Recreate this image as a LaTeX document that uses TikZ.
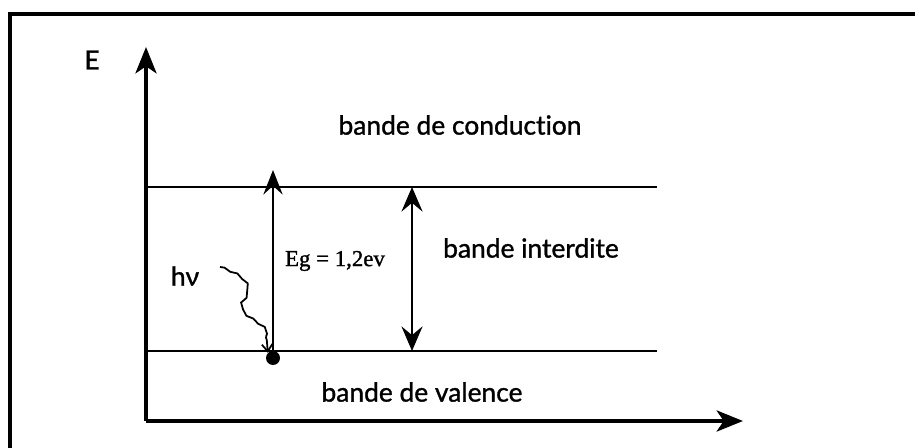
\documentclass[tikz,border=0pt]{standalone}
\usepackage{fontspec}
\setmainfont{Lato}[Ligatures=NoCommon, FakeBold=1.2]
\newfontfamily\egfont{Liberation Serif}[FakeBold=1.2]
\usetikzlibrary{arrows.meta,positioning,decorations.pathmorphing}

\begin{document}
\begin{tikzpicture}[
  x=0.02cm, y=-0.02cm,
  axis/.style={line width=2.1pt, -{Stealth[length=15pt, width=12pt, inset=4pt]}},
  level/.style={line width=1.4pt},
  gaparrow/.style={line width=1.3pt, {Stealth[length=14pt, width=12pt, inset=5pt]}-{Stealth[length=14pt, width=12pt, inset=5pt]}},
  egarrow/.style={line width=0.9pt, -{Stealth[length=14pt, width=11pt, inset=5pt]}},
  photon/.style={line width=1pt, -{Straight Barb[length=4pt, width=6pt]},
    decorate, decoration={snake, amplitude=0.5pt, segment length=8pt, post length=4pt}},
  dot/.style={circle, fill, inner sep=0pt, minimum size=0.28cm},
  label/.style={font=\fontsize{15}{17}\selectfont},
]
\useasboundingbox (0,0) rectangle (915,448);
\clip (0,0) rectangle (915,448);

% cadre
\draw[line width=2.2pt] (10,14) rectangle (940,470);

% axes
\coordinate (O) at (146,421);
\coordinate (ytop) at (146,47);
\coordinate (xend) at (743,421);
\draw[axis] (O) -- (ytop);
\draw[axis] (O) -- (xend);
\node[label] (E) at (92,60) {E};

% bandes
\coordinate (cL) at (146,187);
\coordinate (cR) at (657,187);
\coordinate (vL) at (146,351);
\coordinate (vR) at (657,351);
\draw[level] (cL) -- (cR);
\draw[level] (vL) -- (vR);

\node[label] (cond) at (460,125) {bande de conduction};
\node[label] (interd) at (531,248) {bande interdite};
\node[label] (val) at (422,392) {bande de valence};

% transition
\node[dot] (e) at (273,358) {};
\coordinate (egtip) at (273,170);
\draw[egarrow] (e.center) -- (egtip);
\node[font=\egfont\fontsize{13}{15}\selectfont] (eg) at (335,261) {Eg = 1,2ev};

% largeur de la bande interdite
\coordinate (gapT) at (412,187);
\coordinate (gapB) at (412,351);
\draw[gaparrow] (gapT) -- (gapB);

% photon
\node[label] (hv) at (185,276) {hν};
\coordinate (wS) at (220,267);
\draw[photon] (wS) .. controls (240,274) and (252,284) .. (240,300)
  .. controls (232,312) and (252,318) .. (260,326)
  .. controls (266,332) and (267,340) .. (e.north west);

\end{tikzpicture}
\end{document}
